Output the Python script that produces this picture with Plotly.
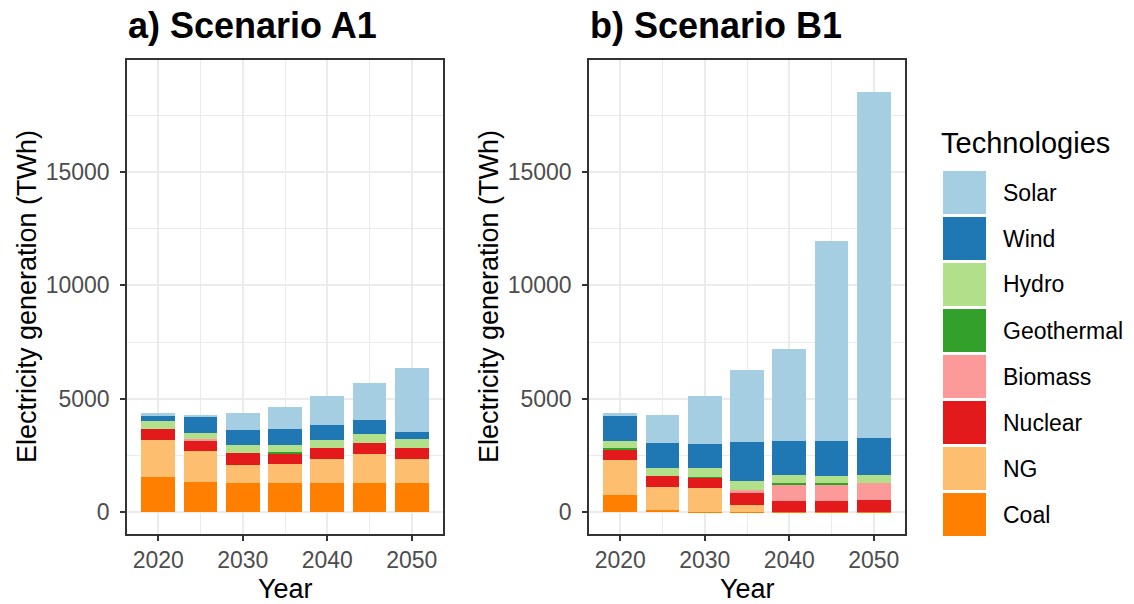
import plotly.graph_objects as go

years = [2020, 2025, 2030, 2035, 2040, 2045, 2050]
techs = ["Coal", "NG", "Nuclear", "Biomass", "Geothermal", "Hydro", "Wind", "Solar"]
colors = {
    "Solar": "#A6CEE3", "Wind": "#1F78B4", "Hydro": "#B2DF8A", "Geothermal": "#33A02C",
    "Biomass": "#FB9A99", "Nuclear": "#E31A1C", "NG": "#FDBF6F", "Coal": "#FF7F00",
}

# Scenario A1 (TWh)
a1_coal = [1548, 1329, 1285, 1285, 1285, 1285, 1285]
a1_ng = [1623, 1360, 790, 833, 1053, 1272, 1053]
a1_nuclear = [526, 482, 526, 496, 482, 483, 482]
a1_biomass = [0, 60, 0, 0, 0, 0, 0]
a1_geothermal = [0, 0, 0, 40, 0, 0, 0]
a1_hydro = [351, 290, 351, 300, 351, 394, 395]
a1_wind = [220, 702, 658, 702, 702, 658, 307]
a1_solar = [131, 88, 789, 1008, 1272, 1623, 2851]

# Scenario B1 (TWh)
b1_coal = [759, 100, 30, 30, 20, 20, 20]
b1_ng = [1535, 1010, 1036, 290, 0, 0, 0]
b1_nuclear = [496, 482, 482, 527, 476, 476, 520]
b1_biomass = [0, 0, 0, 131, 745, 745, 745]
b1_geothermal = [40, 0, 30, 0, 40, 40, 0]
b1_hydro = [300, 351, 365, 395, 355, 310, 351]
b1_wind = [1097, 1097, 1053, 1710, 1491, 1535, 1623]
b1_solar = [175, 1271, 2149, 3202, 4079, 8816, 15263]

a1 = dict(zip(techs, [a1_coal, a1_ng, a1_nuclear, a1_biomass, a1_geothermal, a1_hydro, a1_wind, a1_solar]))
b1 = dict(zip(techs, [b1_coal, b1_ng, b1_nuclear, b1_biomass, b1_geothermal, b1_hydro, b1_wind, b1_solar]))

W, H = 1134, 604
def px(x): return x / W
def py(y): return 1 - y / H

FONT = "Liberation Sans, Arial, sans-serif"
fig = go.Figure()
for t in techs:
    fig.add_trace(go.Bar(x=years, y=a1[t], name=t, marker=dict(color=colors[t], line=dict(width=0)),
                         width=4, xaxis="x", yaxis="y", showlegend=False))
    fig.add_trace(go.Bar(x=years, y=b1[t], name=t, marker=dict(color=colors[t], line=dict(width=0)),
                         width=4, xaxis="x2", yaxis="y2", showlegend=False))

xcommon = dict(range=[2016.3, 2053.7], tickmode="linear", tick0=2020, dtick=10,
               showgrid=True, gridcolor="#EBEBEB", gridwidth=1.6,
               minor=dict(showgrid=True, dtick=5, tick0=2020, gridcolor="#EBEBEB", gridwidth=0.8),
               showline=True, mirror=True, linecolor="#333333", linewidth=1.5,
               ticks="outside", ticklen=5, tickwidth=1.5, tickcolor="#333333",
               tickfont=dict(family=FONT, size=23, color="#4D4D4D"), zeroline=False, fixedrange=True)
ycommon = dict(range=[-950, 19930], tickmode="linear", tick0=0, dtick=5000, tickformat="d",
               showgrid=True, gridcolor="#EBEBEB", gridwidth=1.6,
               minor=dict(showgrid=True, dtick=2500, tick0=0, gridcolor="#EBEBEB", gridwidth=0.8),
               showline=True, mirror=True, linecolor="#333333", linewidth=1.5,
               ticks="outside", ticklen=5, tickwidth=1.5, tickcolor="#333333", ticklabelstandoff=6,
               tickfont=dict(family=FONT, size=23, color="#4D4D4D"), zeroline=False, fixedrange=True)

ytop, ybot = 60, 534
fig.update_layout(
    width=W, height=H, margin=dict(l=0, r=0, t=0, b=0),
    paper_bgcolor="white", plot_bgcolor="white", barmode="stack", bargap=0,
    font=dict(family=FONT),
    xaxis=dict(domain=[px(127), px(443)], anchor="y", **xcommon),
    yaxis=dict(domain=[py(ybot), py(ytop)], anchor="x", **ycommon),
    xaxis2=dict(domain=[px(589), px(905)], anchor="y2", **xcommon),
    yaxis2=dict(domain=[py(ybot), py(ytop)], anchor="x2", **ycommon),
)

ann = []
for left, label in [(126, "a) Scenario A1"), (588, "b) Scenario B1")]:
    ann.append(dict(text="<b>%s</b>" % label, x=px(left), y=py(25), xref="paper", yref="paper",
                    xanchor="left", yanchor="middle", showarrow=False,
                    font=dict(family=FONT, size=36, color="black")))
for cx, tx in [(285, 27), (747, 489)]:
    ann.append(dict(text="Year", x=px(cx), y=py(589), xref="paper", yref="paper",
                    xanchor="center", yanchor="middle", showarrow=False,
                    font=dict(family=FONT, size=27, color="black")))
    ann.append(dict(text="Electricity generation (TWh)", x=px(tx), y=py((ytop + ybot) / 2),
                    xref="paper", yref="paper", xanchor="center", yanchor="middle",
                    textangle=-90, showarrow=False, font=dict(family=FONT, size=27, color="black")))

# Legend (manual, large keys like the original)
ann.append(dict(text="Technologies", x=px(939), y=py(143), xref="paper", yref="paper",
                xanchor="left", yanchor="middle", showarrow=False,
                font=dict(family=FONT, size=29, color="black")))
shapes = []
legend_order = ["Solar", "Wind", "Hydro", "Geothermal", "Biomass", "Nuclear", "NG", "Coal"]
for i, t in enumerate(legend_order):
    y0 = 171 + i * 46
    shapes.append(dict(type="rect", xref="paper", yref="paper", x0=px(943), x1=px(986),
                       y0=py(y0 + 43), y1=py(y0), fillcolor=colors[t], line=dict(width=0)))
    ann.append(dict(text=t, x=px(1001), y=py(y0 + 21.5), xref="paper", yref="paper",
                    xanchor="left", yanchor="middle", showarrow=False,
                    font=dict(family=FONT, size=23, color="black")))

fig.update_layout(annotations=ann, shapes=shapes)
fig.write_html("out.html")
